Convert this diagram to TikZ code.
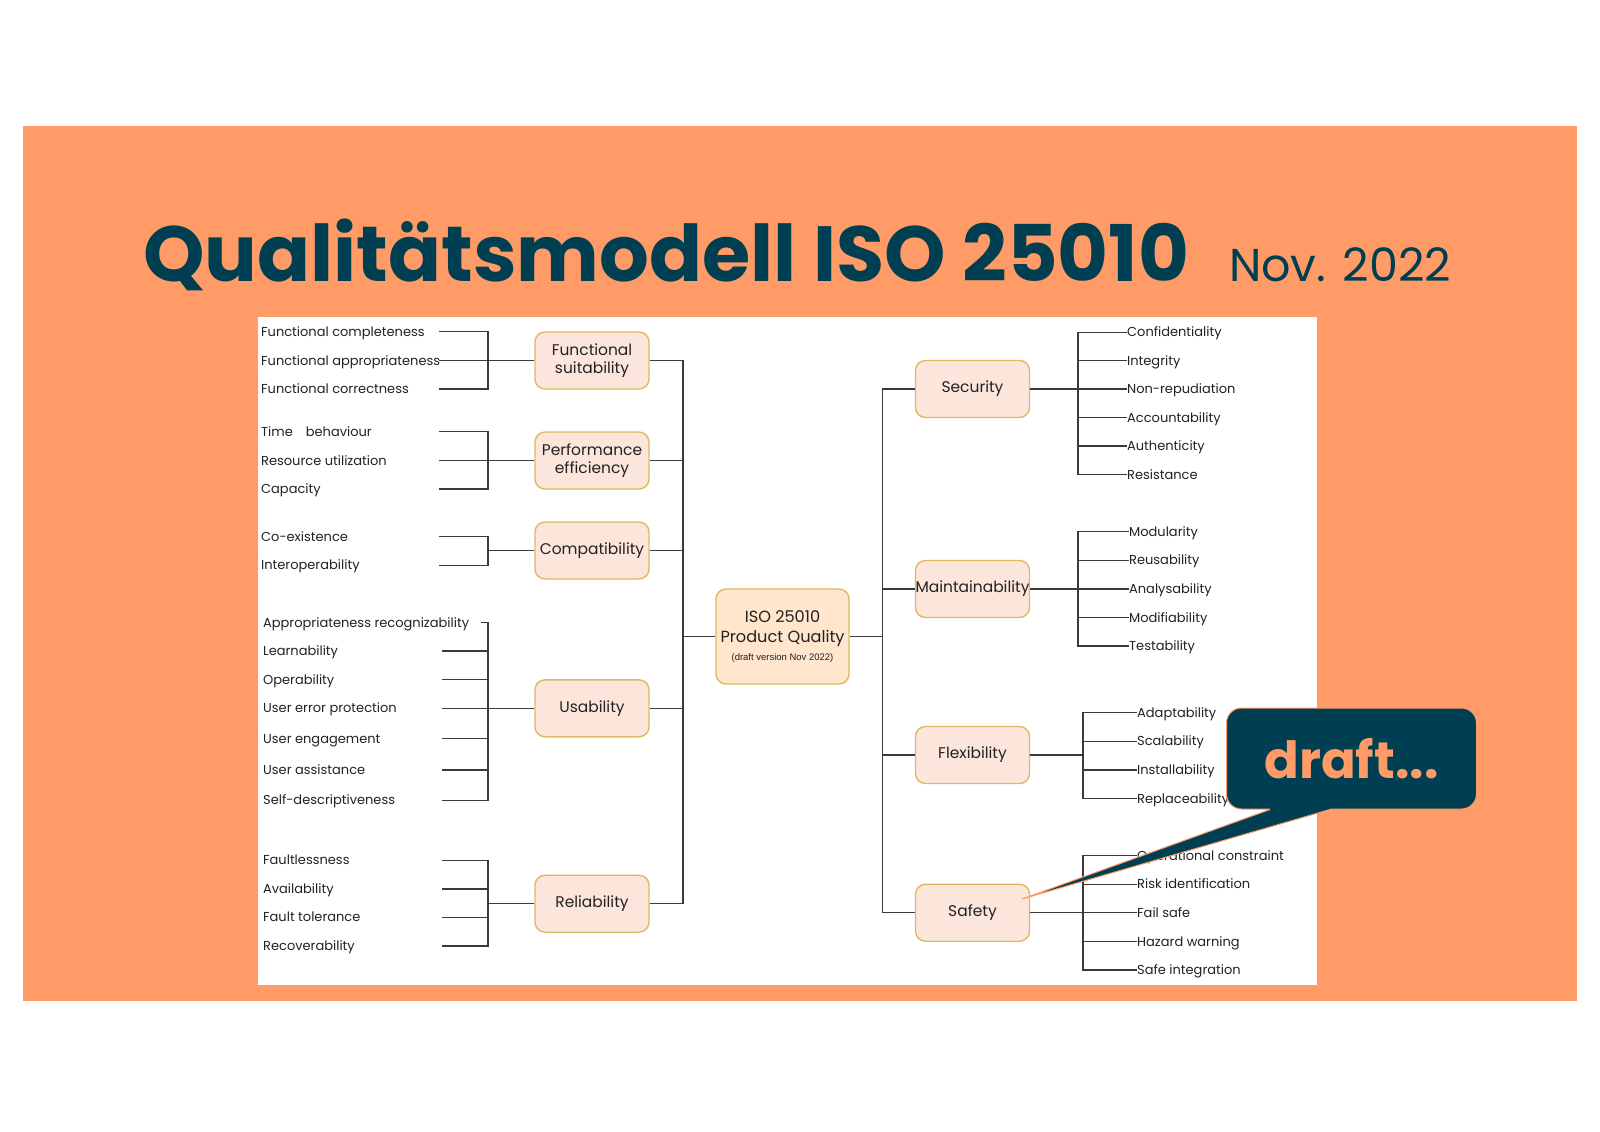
\documentclass[tikz,border=0pt]{standalone}
\usepackage{fontspec}
\setmainfont{Poppins}
\newfontfamily\notefont{Liberation Sans}
\usetikzlibrary{positioning, calc}
\definecolor{slideorange}{HTML}{FF9B66}
\definecolor{deepteal}{HTML}{003F52}
\definecolor{boxpink}{HTML}{FCE6DC}
\definecolor{boxpeach}{HTML}{FFE6CC}
\definecolor{boxgold}{HTML}{DDBA62}
\definecolor{wiregray}{HTML}{3A3A3A}
\definecolor{inkdark}{HTML}{222222}

\begin{document}
\begin{tikzpicture}[x=0.5mm, y=-0.5mm,
  wire/.style={draw=wiregray, line width=0.55mm},
  quality/.style={rectangle, rounded corners=5mm, fill=boxpink, draw=boxgold, line width=0.7mm,
    minimum width=57mm, minimum height=28.5mm, inner sep=0pt, align=center, text=inkdark,
    font=\fontsize{22}{26}\selectfont},
  rootbox/.style={quality, fill=boxpeach, minimum width=66.5mm, minimum height=47.5mm,
    font=\fontsize{23}{28}\selectfont},
  subitem/.style={anchor=west, text height=16pt, text depth=3pt, inner sep=0pt, text=inkdark,
    font=\fontsize{18.5}{22}\selectfont},
  callout/.style={rectangle, rounded corners=7.5mm, fill=deepteal, draw=slideorange, line width=0.5mm,
    minimum width=125mm, minimum height=50.5mm, inner sep=0pt, text=slideorange, font=\bfseries\fontsize{60}{60}\selectfont}
]
  \fill[white] (0,0) rectangle (1600,1131);
  \fill[slideorange] (23,126) rectangle (1577,1001);
  \fill[white] (258,317) rectangle (1317,985);

  \node[anchor=base west, inner sep=0pt, text=deepteal, font=\bfseries\fontsize{120}{120}\selectfont] (title) at (143,281) {\resizebox{523mm}{!}{Qualitätsmodell ISO 25010}};
  \node[anchor=base west, inner sep=0pt, text=deepteal, font=\fontsize{60}{60}\selectfont] (date) at (1229,281) {\resizebox{111mm}{!}{Nov. 2022}};

  \coordinate (lcol) at (439,0);
  \coordinate (ucol) at (442,0);
  \coordinate (tick) at (481,0);
  \coordinate (lbar) at (488,0);
  \coordinate (ltrunk) at (683,0);
  \coordinate (rtrunk) at (882.5,0);
  \coordinate (sbar) at (1078,0);
  \coordinate (fbar) at (1083,0);

  \node[rootbox] (iso) at (782.5,636.5) {ISO 25010\\Product Quality\\[-3pt]{\notefont\fontsize{13.5}{15}\selectfont(draft version Nov 2022)}};

  \node[quality] (fs) at (592,360.5) {Functional\\suitability};
  \node[quality] (pe) at (592,460.5) {Performance\\efficiency};
  \node[quality] (co) at (592,550.5) {Compatibility};
  \node[quality] (us) at (592,708.3) {Usability};
  \node[quality] (re) at (592,903.7) {Reliability};

  \node[quality] (sec) at (972.5,389) {Security};
  \node[quality] (ma) at (972.5,589) {Maintainability};
  \node[quality] (fx) at (972.5,755) {Flexibility};
  \node[quality] (sa) at (972.5,912.7) {Safety};

  \node[subitem] (fcp) at (261,331.7) {Functional completeness};
  \node[subitem] (fap) at (261,360.5) {Functional appropriateness};
  \node[subitem] (fcr) at (261,389) {Functional correctness};
  \node[subitem] (tb) at (261,431.7) {Time\quad behaviour};
  \node[subitem] (ru) at (261,460.5) {Resource utilization};
  \node[subitem] (cap) at (261,489) {Capacity};
  \node[subitem] (coe) at (261,536.7) {Co-existence};
  \node[subitem] (iop) at (261,565.3) {Interoperability};
  \node[subitem] (arc) at (263,622.7) {Appropriateness recognizability};
  \node[subitem] (lea) at (263,651) {Learnability};
  \node[subitem] (ope) at (263,679.7) {Operability};
  \node[subitem] (uep) at (263,708.3) {User error protection};
  \node[subitem] (uen) at (263,738.7) {User engagement};
  \node[subitem] (uas) at (263,770) {User assistance};
  \node[subitem] (sde) at (263,800.3) {Self-descriptiveness};
  \node[subitem] (fll) at (263,860.3) {Faultlessness};
  \node[subitem] (ava) at (263,889) {Availability};
  \node[subitem] (ftl) at (263,917.3) {Fault tolerance};
  \node[subitem] (rcv) at (263,946) {Recoverability};

  \node[subitem] (cfd) at (1127,332.3) {Confidentiality};
  \node[subitem] (itg) at (1127,360.7) {Integrity};
  \node[subitem] (nrp) at (1127,389) {Non-repudiation};
  \node[subitem] (acc) at (1127,417.7) {Accountability};
  \node[subitem] (aut) at (1127,446) {Authenticity};
  \node[subitem] (res) at (1127,474.7) {Resistance};
  \node[subitem] (mod) at (1129,531.7) {Modularity};
  \node[subitem] (reu) at (1129,560.3) {Reusability};
  \node[subitem] (ana) at (1129,589) {Analysability};
  \node[subitem] (mdf) at (1129,617.7) {Modifiability};
  \node[subitem] (tst) at (1129,646) {Testability};
  \node[subitem] (ada) at (1137,712.7) {Adaptability};
  \node[subitem] (sca) at (1137,741.3) {Scalability};
  \node[subitem] (ins) at (1137,770) {Installability};
  \node[subitem] (rep) at (1137,798.7) {Replaceability};
  \node[subitem] (opc) at (1137,855.7) {Operational constraint};
  \node[subitem] (rid) at (1137,884.3) {Risk identification};
  \node[subitem] (fsf) at (1137,912.7) {Fail safe};
  \node[subitem] (hzw) at (1137,941.7) {Hazard warning};
  \node[subitem] (sin) at (1137,970) {Safe integration};

  \draw[wire] (fcp -| lcol) -| (fs -| lbar);
  \draw[wire] (fap -| lcol) -- (fs);
  \draw[wire] (fcr -| lcol) -| (fs -| lbar);
  \draw[wire] (tb -| lcol) -| (pe -| lbar);
  \draw[wire] (ru -| lcol) -- (pe);
  \draw[wire] (cap -| lcol) -| (pe -| lbar);
  \draw[wire] (coe -| lcol) -| (co -| lbar);
  \draw[wire] (iop -| lcol) -| (co -| lbar);
  \draw[wire] (co -| lbar) -- (co);
  \draw[wire] (arc -| tick) -| (us -| lbar);
  \draw[wire] (lea -| ucol) -| (us -| lbar);
  \draw[wire] (ope -| ucol) -| (us -| lbar);
  \draw[wire] (uep -| ucol) -- (us);
  \draw[wire] (uen -| ucol) -| (us -| lbar);
  \draw[wire] (uas -| ucol) -| (us -| lbar);
  \draw[wire] (sde -| ucol) -| (us -| lbar);
  \draw[wire] (fll -| ucol) -| (re -| lbar);
  \draw[wire] (ava -| ucol) -| (re -| lbar);
  \draw[wire] (ftl -| ucol) -| (re -| lbar);
  \draw[wire] (rcv -| ucol) -| (re -| lbar);
  \draw[wire] (re -| lbar) -- (re);

  \draw[wire] (fs) -| (iso -| ltrunk);
  \draw[wire] (pe) -| (iso -| ltrunk);
  \draw[wire] (co) -| (iso -| ltrunk);
  \draw[wire] (us) -| (iso -| ltrunk);
  \draw[wire] (re) -| (iso -| ltrunk);
  \draw[wire] (iso -| ltrunk) -- (iso);

  \draw[wire] (iso) -- (iso -| rtrunk);
  \draw[wire] (iso -| rtrunk) |- (sec);
  \draw[wire] (iso -| rtrunk) |- (ma);
  \draw[wire] (iso -| rtrunk) |- (fx);
  \draw[wire] (iso -| rtrunk) |- (sa);

  \draw[wire] (sec) -- (sec -| sbar);
  \draw[wire] (sec -| sbar) |- (cfd.west);
  \draw[wire] (sec -| sbar) |- (itg.west);
  \draw[wire] (sec -| sbar) |- (nrp.west);
  \draw[wire] (sec -| sbar) |- (acc.west);
  \draw[wire] (sec -| sbar) |- (aut.west);
  \draw[wire] (sec -| sbar) |- (res.west);
  \draw[wire] (ma) -- (ma -| sbar);
  \draw[wire] (ma -| sbar) |- (mod.west);
  \draw[wire] (ma -| sbar) |- (reu.west);
  \draw[wire] (ma -| sbar) |- (ana.west);
  \draw[wire] (ma -| sbar) |- (mdf.west);
  \draw[wire] (ma -| sbar) |- (tst.west);
  \draw[wire] (fx) -- (fx -| fbar);
  \draw[wire] (fx -| fbar) |- (ada.west);
  \draw[wire] (fx -| fbar) |- (sca.west);
  \draw[wire] (fx -| fbar) |- (ins.west);
  \draw[wire] (fx -| fbar) |- (rep.west);
  \draw[wire] (sa) -- (sa -| fbar);
  \draw[wire] (sa -| fbar) |- (opc.west);
  \draw[wire] (sa -| fbar) |- (rid.west);
  \draw[wire] (sa -| fbar) |- (fsf.west);
  \draw[wire] (sa -| fbar) |- (hzw.west);
  \draw[wire] (sa -| fbar) |- (sin.west);

  \node[callout] (draftnote) at (1351.5,758.5) {\resizebox{87mm}{!}{draft...}};
  \coordinate (tailtip) at (1022,899);
  \fill[deepteal] ($(draftnote.south west)+(44,0)$) -- (tailtip) -- ($(draftnote.south west)+(104,0)$) -- ++(0,-6) -- ++(-60,0) -- cycle;
  \draw[slideorange, line width=0.5mm] ($(draftnote.south west)+(44,0)$) -- (tailtip) -- ($(draftnote.south west)+(104,0)$);
\end{tikzpicture}
\end{document}
